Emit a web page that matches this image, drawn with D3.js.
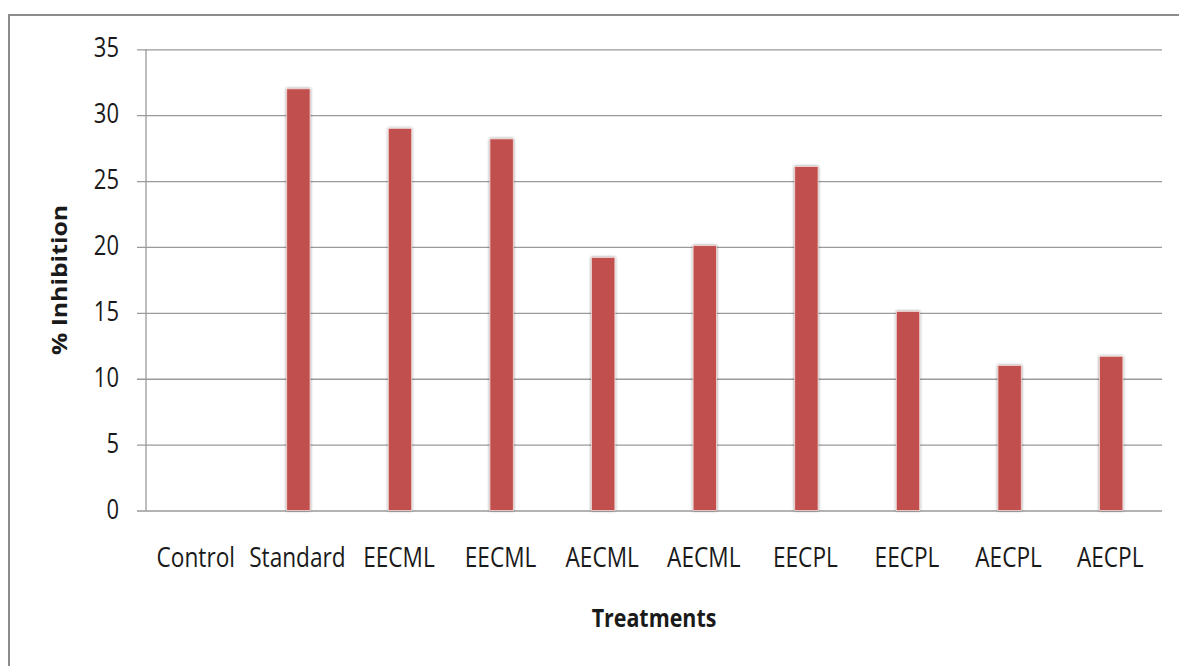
<!DOCTYPE html>
<html>
<head>
<meta charset="utf-8">
<script src="https://cdn.jsdelivr.net/npm/d3@7"></script>
<style>
  html, body { margin: 0; padding: 0; background: #fff; }
  svg { display: block; }
  text { font-family: "Open Sans", "Noto Sans", sans-serif; fill: #1a1a1a; }
</style>
</head>
<body>
<script>
// Treatment groups along the x axis (names repeat: two doses per extract)
const categories = ["Control", "Standard", "EECML", "EECML", "AECML", "AECML", "EECPL", "EECPL", "AECPL", "AECPL"];
// Percentage inhibition for each group
const inhibition = [0, 32, 29, 28.2, 19.2, 20.1, 26.1, 15.1, 11, 11.7];
// Y-axis tick values
const yTicks = [0, 5, 10, 15, 20, 25, 30, 35];

const W = 1179, H = 666;
const plot = { left: 146, right: 1162, top: 49.3, bottom: 510.5 };
const textStretch = 1.2;

const svg = d3.select("body").append("svg")
  .attr("width", W).attr("height", H);

// Soft shadow around each bar
const defs = svg.append("defs");
const f = defs.append("filter").attr("id", "barShadow")
  .attr("x", "-40%").attr("y", "-10%").attr("width", "180%").attr("height", "120%");
f.append("feGaussianBlur").attr("in", "SourceAlpha").attr("stdDeviation", 1.6).attr("result", "blur");
f.append("feComponentTransfer").attr("in", "blur").attr("result", "shadow")
  .append("feFuncA").attr("type", "linear").attr("slope", 0.45);
const merge = f.append("feMerge");
merge.append("feMergeNode").attr("in", "shadow");
merge.append("feMergeNode").attr("in", "SourceGraphic");

// Chart frame
svg.append("path")
  .attr("d", `M9,${H} V15 H${W}`)
  .attr("fill", "none").attr("stroke", "#8c8c8c").attr("stroke-width", 2);

const x = d3.scaleBand()
  .domain(d3.range(categories.length))
  .range([plot.left, plot.right])
  .paddingInner(0.77)
  .paddingOuter(0.385);

const y = d3.scaleLinear()
  .domain([0, 35])
  .range([plot.bottom, plot.top]);

// Horizontal gridlines with tick marks on the left
const yAxis = d3.axisLeft(y)
  .tickValues(yTicks)
  .tickSize(-(plot.right - plot.left))
  .tickPadding(0)
  .tickFormat("");
const gy = svg.append("g")
  .attr("transform", `translate(${plot.left},0)`)
  .call(yAxis);
gy.select(".domain").remove();
gy.selectAll(".tick line")
  .attr("x1", -9)
  .attr("stroke", "#9a9a9a").attr("stroke-width", 1.3);

// Vertical axis line
svg.append("line")
  .attr("x1", plot.left).attr("x2", plot.left)
  .attr("y1", y(35)).attr("y2", y(0))
  .attr("stroke", "#9a9a9a").attr("stroke-width", 1.3);

// Y tick labels
svg.append("g").selectAll("text")
  .data(yTicks)
  .join("text")
  .attr("text-anchor", "end")
  .attr("transform", d => `translate(119,${y(d) + 8}) scale(1,${textStretch})`)
  .attr("font-size", 22)
  .text(d => d);

// Bars
svg.append("g").selectAll("rect")
  .data(inhibition)
  .join("rect")
  .attr("x", (d, i) => x(i))
  .attr("width", x.bandwidth())
  .attr("y", d => y(d))
  .attr("height", d => y(0) - y(d))
  .attr("fill", "#C0504D")
  .attr("stroke", "#f3d6d5").attr("stroke-width", 0.8)
  .attr("filter", "url(#barShadow)")
  .style("display", d => d > 0 ? null : "none");

// Category labels
svg.append("g").selectAll("text")
  .data(categories)
  .join("text")
  .attr("text-anchor", "middle")
  .attr("transform", (d, i) => `translate(${x(i) + x.bandwidth() / 2 - 1},567) scale(1.03,${textStretch})`)
  .attr("font-size", 22)
  .text(d => d);

// Axis titles
svg.append("text")
  .attr("text-anchor", "middle")
  .attr("transform", `translate(654,627) scale(1.02,${textStretch})`)
  .attr("font-size", 21)
  .attr("font-weight", "bold")
  .text("Treatments");

svg.append("text")
  .attr("text-anchor", "middle")
  .attr("transform", `translate(67,280) rotate(-90) scale(1.18,1.05)`)
  .attr("font-size", 21)
  .attr("font-weight", "bold")
  .text("% Inhibition");
</script>
</body>
</html>
